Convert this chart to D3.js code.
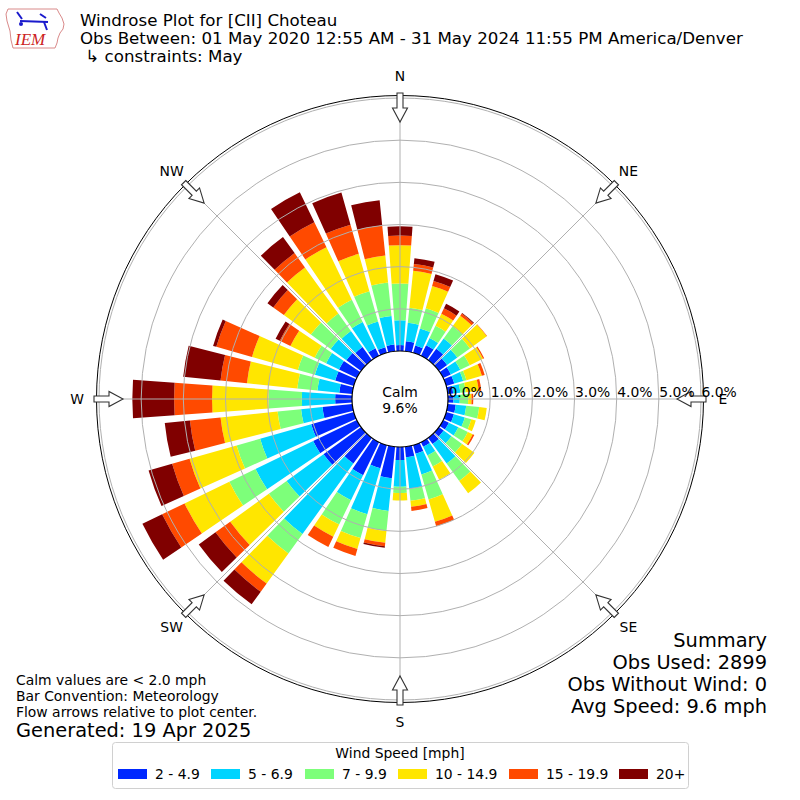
<!DOCTYPE html>
<html>
<head>
<meta charset="utf-8">
<script src="https://cdn.jsdelivr.net/npm/d3@7"></script>
<style>
  body { margin: 0; background: #fff; }
  svg { font-family: "DejaVu Sans", sans-serif; }
</style>
</head>
<body>
<div id="chart"></div>
<script>
// direction of each bar (degrees, meteorological)
var directions = d3.range(0, 360, 10);

// percent of obs per direction, one array per speed bin
var bin1 = [0.14,0.24,0.18,0.28,0.33,0.24,0.20,0.20,0.13,0.13,0.19,0.19,0.15,0.14,0.18,0.12,0.21,0.25,
            0.31,0.75,0.57,0.87,0.75,1.10,1.15,1.05,0.71,0.40,0.31,0.46,0.47,0.43,0.38,0.20,0.14,0.16];
var bin2 = [0.59,0.44,0.42,0.19,0.30,0.30,0.25,0.22,0.17,0.15,0.25,0.27,0.25,0.23,0.57,0.23,0.51,0.76,
            0.63,0.78,1.13,0.66,2.06,1.08,1.52,1.26,0.51,0.79,0.52,0.50,0.34,0.46,0.47,0.69,0.63,0.68];
var bin3 = [0.87,0.36,0.50,0.32,0.36,0.37,0.25,0.08,0.13,0.20,0.31,0.16,0.25,0.31,0.51,0.29,0.62,0.28,
            0.15,0.48,0.59,0.64,0.57,0.52,0.69,0.58,0.56,0.79,0.48,0.42,0.30,0.58,0.51,0.59,0.75,0.80];
var bin4 = [0.91,0.88,0.55,0.32,0.31,0.49,0.35,0.38,0.31,0.08,0.18,0.11,0.13,0.36,0.36,0.35,0.55,0.14,
            0.18,0.28,0.27,0.32,0.88,1.13,1.18,1.16,1.36,1.34,1.20,1.13,0.64,0.79,1.35,1.38,0.92,0.64];
var bin5 = [0.23,0.16,0.12,0.14,0.06,0.01,0.03,0.07,0.06,0.04,0.00,0.00,0.04,0.00,0.00,0.00,0.11,0.10,
            0.00,0.08,0.17,0.27,0.24,0.43,0.59,0.43,0.73,0.90,0.63,0.88,0.28,0.31,0.42,0.66,0.72,0.72];
var bin6 = [0.22,0.14,0.17,0.12,0.02,0.00,0.00,0.00,0.00,0.00,0.00,0.00,0.00,0.00,0.00,0.00,0.00,0.00,
            0.00,0.04,0.00,0.00,0.37,0.49,0.52,0.58,0.60,0.99,0.89,0.08,0.11,0.17,0.47,0.79,0.79,0.60];

var binLabels = ["2 - 4.9", "5 - 6.9", "7 - 9.9", "10 - 14.9", "15 - 19.9", "20+"];
var binColors = ["#0028ff", "#00d4ff", "#7dff7a", "#ffe600", "#ff4a00", "#800000"];
var rTicks = [0, 1, 2, 3, 4, 5, 6];
var compass = ["N", "NE", "E", "SE", "S", "SW", "W", "NW"];

var calmPct = 9.6;
var titleLines = ["Windrose Plot for [CII] Choteau",
                  "Obs Between: 01 May 2020 12:55 AM - 31 May 2024 11:55 PM America/Denver",
                  " \u21b3 constraints: May"];
var noteLines = ["Calm values are < 2.0 mph", "Bar Convention: Meteorology",
                 "Flow arrows relative to plot center."];
var summaryLines = ["Summary", "Obs Used: 2899", "Obs Without Wind: 0", "Avg Speed: 9.6 mph"];

var width = 800, height = 800;
var cx = 400, cy = 399;
var calmR = 48, outerR = 301, spineR = 303.5;
var fs = 13.9, fsBig = 19.4;   // 10pt and 14pt at 100 dpi

var svg = d3.select("#chart").append("svg")
    .attr("width", width)
    .attr("height", height);

// radius scale in percent
var r = d3.scaleLinear().domain([0, 6]).range([calmR, outerR]);
var rad = function(deg) { return deg * Math.PI / 180; };

// build rows for stacking
var rows = directions.map(function(d, i) {
    return { dir: d, b0: bin1[i], b1: bin2[i], b2: bin3[i], b3: bin4[i], b4: bin5[i], b5: bin6[i] };
});
var keys = ["b0", "b1", "b2", "b3", "b4", "b5"];
var series = d3.stack().keys(keys)(rows);

var plot = svg.append("g").attr("transform", "translate(" + cx + "," + cy + ")");

// hollow arrow pointing at the center
function arrowPath(deg) {
    var a = rad(deg);
    var ux = Math.sin(a), uy = -Math.cos(a);   // outward unit
    var px = -uy, py = ux;                      // perpendicular
    var pts = [[306, 3], [291, 3], [291, 7.5], [277, 0], [291, -7.5], [291, -3], [306, -3]];
    return "M" + pts.map(function(p) {
        return [(ux * p[0] + px * p[1]).toFixed(2), (uy * p[0] + py * p[1]).toFixed(2)].join(",");
    }).join("L") + "Z";
}

// bars
var arc = d3.arc();
var half = rad(4.15);
series.forEach(function(s, k) {
    plot.append("g").selectAll("path")
        .data(s)
        .enter().append("path")
        .filter(function(d) { return d[1] - d[0] > 0; })
        .attr("d", function(d) {
            var a = rad(d.data.dir);
            return arc({ innerRadius: r(d[0]), outerRadius: r(d[1]),
                         startAngle: a - half, endAngle: a + half });
        })
        .attr("fill", binColors[k]);
});

// grid circles and spokes (on top of bars)
plot.append("g").selectAll("circle")
    .data(rTicks.slice(1))
    .enter().append("circle")
    .attr("r", function(d) { return r(d); })
    .attr("fill", "none")
    .attr("stroke", "#b0b0b0")
    .attr("stroke-width", 1);

plot.append("g").selectAll("line")
    .data(d3.range(0, 360, 45))
    .enter().append("line")
    .attr("x1", 0).attr("y1", 0)
    .attr("x2", function(d) { return outerR * Math.sin(rad(d)); })
    .attr("y2", function(d) { return -outerR * Math.cos(rad(d)); })
    .attr("stroke", "#b0b0b0")
    .attr("stroke-width", 1);

// outer spine
plot.append("circle")
    .attr("r", spineR)
    .attr("fill", "none")
    .attr("stroke", "#000")
    .attr("stroke-width", 1);

// flow arrows
plot.append("g").selectAll("path")
    .data(d3.range(0, 360, 45))
    .enter().append("path")
    .attr("d", arrowPath)
    .attr("fill", "#fff")
    .attr("stroke", "#333")
    .attr("stroke-width", 1.1);

// calm circle
plot.append("circle")
    .attr("r", calmR)
    .attr("fill", "#fff")
    .attr("stroke", "#000")
    .attr("stroke-width", 1.2);
plot.append("text").attr("x", 0).attr("y", -2).attr("text-anchor", "middle")
    .attr("font-size", fs).text("Calm");
plot.append("text").attr("x", 0).attr("y", 13.5).attr("text-anchor", "middle")
    .attr("font-size", fs).text(calmPct.toFixed(1) + "%");

// radial tick labels
plot.append("g").selectAll("text")
    .data(rTicks)
    .enter().append("text")
    .attr("x", function(d) { return r(d) + 0.5; })
    .attr("y", -2)
    .attr("font-size", fs)
    .text(function(d) { return d.toFixed(1) + "%"; });

// compass labels
plot.append("g").selectAll("text")
    .data(compass)
    .enter().append("text")
    .attr("x", function(d, i) { return 323 * Math.sin(rad(i * 45)); })
    .attr("y", function(d, i) { return -323 * Math.cos(rad(i * 45)) + 5; })
    .attr("text-anchor", "middle")
    .attr("font-size", fs)
    .text(function(d) { return d; });

// title block
svg.append("g").selectAll("text")
    .data(titleLines)
    .enter().append("text")
    .attr("x", 80)
    .attr("y", function(d, i) { return 26 + i * 18; })
    .attr("font-size", 16.67)
    .attr("xml:space", "preserve")
    .text(function(d) { return d; });

// IEM logo (rough)
var logo = svg.append("g");
logo.append("path")
    .attr("d", "M8,9 L57,9 L59,13 L62,18 L64,24 L63,29 L60,33 L58,38 L57,43 L55,48 L13,48 L11,40 L10,31 L7,21 L6,14 Z")
    .attr("fill", "#fff").attr("stroke", "#d98a8a").attr("stroke-width", 1);
logo.append("line").attr("x1", 20).attr("y1", 21).attr("x2", 48).attr("y2", 22)
    .attr("stroke", "#1a1acc").attr("stroke-width", 2);
logo.append("path").attr("d", "M17,12 L22,19 M40,14 L46,18 M44,22 L47,30")
    .attr("stroke", "#1a1acc").attr("stroke-width", 2).attr("fill", "none");
logo.append("circle").attr("cx", 21).attr("cy", 24).attr("r", 2).attr("fill", "#1a1acc");
logo.append("text").attr("x", 15).attr("y", 45)
    .attr("font-family", "'Liberation Serif', serif").attr("font-style", "italic")
    .attr("font-size", 17).attr("fill", "#cc2222").text("IEM");

// notes bottom-left
svg.append("g").selectAll("text")
    .data(noteLines)
    .enter().append("text")
    .attr("x", 16)
    .attr("y", function(d, i) { return 685 + i * 16; })
    .attr("font-size", fs)
    .text(function(d) { return d; });
svg.append("text").attr("x", 16).attr("y", 737).attr("font-size", fsBig)
    .text("Generated: 19 Apr 2025");

// summary bottom-right
svg.append("g").selectAll("text")
    .data(summaryLines)
    .enter().append("text")
    .attr("x", 767)
    .attr("y", function(d, i) { return 647 + i * 22; })
    .attr("text-anchor", "end")
    .attr("font-size", fsBig)
    .text(function(d) { return d; });

// legend
var legend = svg.append("g");
legend.append("rect")
    .attr("x", 112.5).attr("y", 742.5).attr("width", 576).attr("height", 46)
    .attr("rx", 3).attr("fill", "#fff").attr("stroke", "#d0d0d0");
legend.append("text").attr("x", 400).attr("y", 758).attr("text-anchor", "middle")
    .attr("font-size", fs).text("Wind Speed [mph]");
var legX = [118, 211, 305, 398, 509, 619];
var items = legend.selectAll("g.item")
    .data(binLabels)
    .enter().append("g")
    .attr("class", "item");
items.append("rect")
    .attr("x", function(d, i) { return legX[i]; })
    .attr("y", 769)
    .attr("width", 29).attr("height", 10)
    .attr("fill", function(d, i) { return binColors[i]; });
items.append("text")
    .attr("x", function(d, i) { return legX[i] + 37; })
    .attr("y", 779)
    .attr("font-size", fs)
    .text(function(d) { return d; });
</script>
</body>
</html>
